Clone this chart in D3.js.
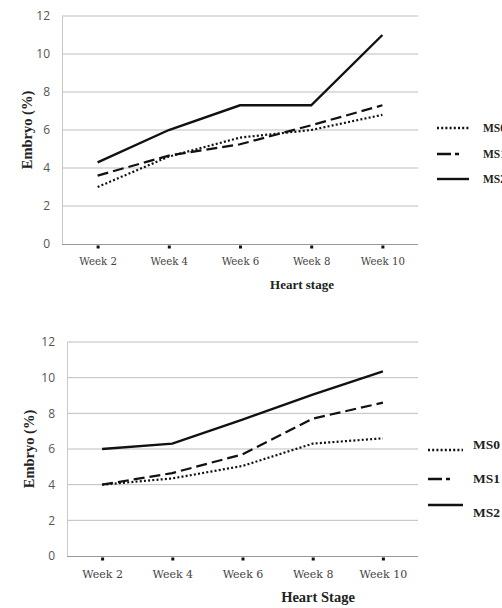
<!DOCTYPE html>
<html>
<head>
<meta charset="utf-8">
<script src="https://cdn.jsdelivr.net/npm/d3@7"></script>
<style>
  body { margin: 0; background: #fff; }
  svg { display: block; }
  .num { font-family: "Open Sans", "Liberation Sans", sans-serif; font-size: 12px; fill: #555; }
  .wk { font-family: "DejaVu Serif", serif; fill: #444; }
  .ttl { font-family: "Liberation Serif", serif; font-weight: bold; fill: #222; }
</style>
</head>
<body>
<svg class="chart"></svg>
<script>
// data
var weeks = ["Week 2", "Week 4", "Week 6", "Week 8", "Week 10"];
var seriesNames = ["MS0", "MS1", "MS2"];
var yTicks = [0, 2, 4, 6, 8, 10, 12];

var topMS0 = [3.0, 4.6, 5.6, 6.0, 6.8];
var topMS1 = [3.6, 4.65, 5.25, 6.25, 7.3];
var topMS2 = [4.3, 6.0, 7.3, 7.3, 11.0];

var botMS0 = [4.0, 4.35, 5.05, 6.3, 6.6];
var botMS1 = [4.0, 4.65, 5.7, 7.7, 8.6];
var botMS2 = [6.0, 6.3, 7.65, 9.05, 10.35];

var dashes = ["2,2.2", "11,5", null];

function show() {
    'use strict';

    var svg = d3.select(".chart").attr("width", 502).attr("height", 608);

    // one panel per study
    drawPanel({
        left: 62, right: 418, top: 16, bottom: 244,
        values: [topMS0, topMS1, topMS2],
        yTitleX: 27, yTitleSize: 14.5, wkSize: 10.2,
        xLabelY: 265, xTitle: "Heart stage", xTitleX: 302, xTitleY: 289, titleSize: 13,
        legX0: 437, legX1: 469, legTextX: 483, legY: [128, 154, 179], legTextDy: [0, 0, 0], legSize: 11.5
    });
    drawPanel({
        left: 67, right: 418, top: 342, bottom: 556,
        values: [botMS0, botMS1, botMS2],
        yTitleX: 29, yTitleSize: 14.5, wkSize: 11,
        xLabelY: 578, xTitle: "Heart Stage", xTitleX: 318, xTitleY: 602, titleSize: 14.5,
        legX0: 428, legX1: 463, legTextX: 473, legY: [450, 479, 505], legTextDy: [-6, -1, 7], legSize: 13.5
    });

    function drawPanel(cfg) {
        var x = d3.scalePoint().domain(weeks).range([cfg.left, cfg.right]).padding(0.5);
        var y = d3.scaleLinear().domain([0, 12]).range([cfg.bottom, cfg.top]);
        var g = svg.append("g");

        // grid lines
        g.selectAll(".grid").data(yTicks.slice(1)).enter().append("line")
            .attr("x1", cfg.left).attr("x2", cfg.right)
            .attr("y1", function(d) { return y(d); }).attr("y2", function(d) { return y(d); })
            .style("stroke", "#bdbdbd").style("stroke-width", 1);

        // left axis with numbers
        var yAxis = g.append("g").attr("transform", "translate(" + cfg.left + ",0)")
            .call(d3.axisLeft(y).tickValues(yTicks).tickSize(0).tickPadding(12));
        yAxis.select(".domain").style("stroke", "#c8c8c8");
        yAxis.selectAll("text").attr("class", "num");

        // bottom axis
        var xAxis = g.append("g").attr("transform", "translate(0," + cfg.bottom + ")")
            .call(d3.axisBottom(x).tickSize(0).tickPadding(0));
        xAxis.select(".domain").attr("d", "M" + cfg.left + ",0.5H" + cfg.right).style("stroke", "#999");
        xAxis.selectAll("text").attr("class", "wk").attr("y", cfg.xLabelY - cfg.bottom).attr("dy", "0")
            .style("font-size", cfg.wkSize + "px");
        xAxis.selectAll(".tick").append("rect")
            .attr("x", -1.5).attr("y", 1.5).attr("width", 3).attr("height", 3).style("fill", "#111");

        // series lines
        var line = d3.line()
            .x(function(d, i) { return x(weeks[i]); })
            .y(function(d) { return y(d); });
        g.selectAll(".series").data(cfg.values).enter().append("path")
            .attr("d", line)
            .style("fill", "none").style("stroke", "#111")
            .style("stroke-width", function(d, i) { return i === 2 ? 2.4 : 2.2; })
            .style("stroke-dasharray", function(d, i) { return dashes[i]; });

        // axis titles
        g.append("text").attr("class", "ttl")
            .attr("transform", "translate(" + cfg.yTitleX + "," + y(6) + ") rotate(-90)")
            .attr("text-anchor", "middle").attr("dy", "0.35em")
            .style("font-size", cfg.yTitleSize + "px").text("Embryo (%)");
        g.append("text").attr("class", "ttl")
            .attr("x", cfg.xTitleX).attr("y", cfg.xTitleY).attr("text-anchor", "middle")
            .style("font-size", cfg.titleSize + "px").text(cfg.xTitle);

        // legend
        var leg = g.selectAll(".leg").data(seriesNames).enter().append("g");
        leg.append("line")
            .attr("x1", cfg.legX0).attr("x2", cfg.legX1)
            .attr("y1", function(d, i) { return cfg.legY[i]; })
            .attr("y2", function(d, i) { return cfg.legY[i]; })
            .style("stroke", "#111").style("stroke-width", 2.4)
            .style("stroke-dasharray", function(d, i) { return i === 1 ? "14,4,4,20" : dashes[i]; });
        leg.append("text").attr("class", "ttl")
            .attr("x", cfg.legTextX)
            .attr("y", function(d, i) { return cfg.legY[i] + cfg.legTextDy[i]; })
            .attr("dy", "0.35em")
            .style("font-size", cfg.legSize + "px")
            .text(function(d) { return d; });
    }
}
show();
</script>
</body>
</html>
